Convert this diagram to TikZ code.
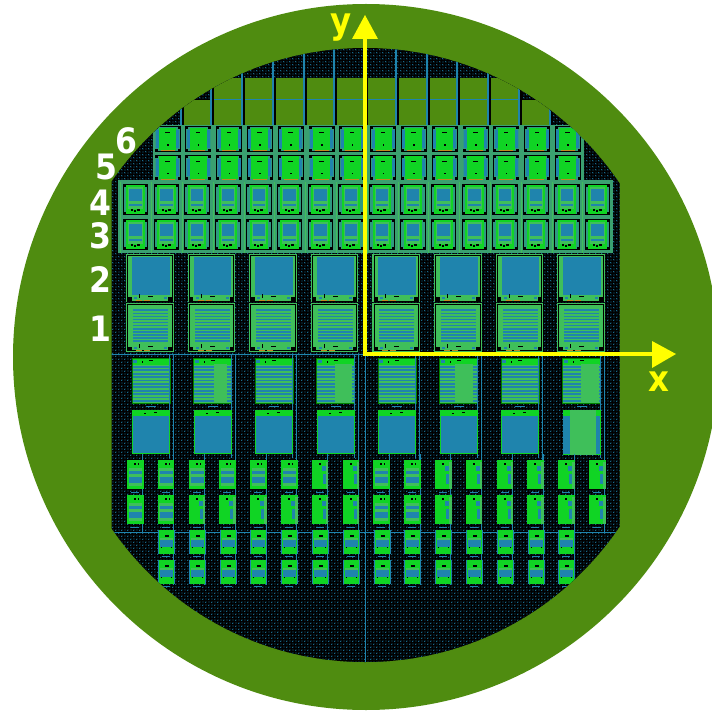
\documentclass[tikz,border=0pt]{standalone}
\usepackage{fontspec}
\newfontfamily\lab{DejaVu Sans Condensed}
\definecolor{wafer}{HTML}{4F8C10}
\definecolor{lgreen}{HTML}{3FBF5A}
\definecolor{bgreen}{HTML}{10D424}
\definecolor{chipblue}{HTML}{1F84AD}
\definecolor{chipteal}{HTML}{2F9A80}
\definecolor{framec}{HTML}{3AA070}
\definecolor{orangec}{HTML}{C08A20}
\definecolor{axisy}{HTML}{FFFF00}
\definecolor{dimdot}{HTML}{04171F}
\definecolor{dotblue}{HTML}{17698C}
\tikzset{
  wire/.style={draw=chipblue,line width=1pt},
  heavywire/.style={draw=chipblue,line width=2pt},
  axisline/.style={draw=axisy,line width=4pt},
  axishead/.style={fill=axisy},
  whitelabel/.style={text=white,font=\lab\bfseries\fontsize{35}{35}\selectfont,inner sep=0pt},
  yellowlabel/.style={text=axisy,font=\lab\bfseries\fontsize{36}{36}\selectfont,inner sep=0pt}
}
\newcommand\bx[5]{\fill[#1] (#2,#3) rectangle (#4,#5);}
\newcommand\CellA[2]{\begin{scope}[shift={(#1,#2)}]
 \bx{framec}{-1.8}{-1.5}{29}{27.5}
 \bx{black}{0}{0}{26}{25.5}
 \bx{chipteal}{3}{0.8}{23}{24.7}
 \bx{chipteal}{0.8}{3}{25.2}{22.5}
 \bx{chipblue}{1.5}{4}{5}{21.5}
 \bx{chipblue}{21}{4}{24.5}{21.5}
 \bx{bgreen}{4.5}{1.5}{21.5}{24}
 \bx{black}{10.5}{6}{15}{7}
 \bx{black}{12.5}{18}{14}{19.5}
 \bx{orangec}{6}{24}{20}{25}
\end{scope}}
\newcommand\CellB[2]{\begin{scope}[shift={(#1,#2)}]
 \bx{framec}{-2.5}{-2}{28.3}{33.5}
 \bx{lgreen}{-2.5}{-2}{-1.7}{33.5}
 \bx{black}{0}{0}{25.5}{31}
 \bx{chipteal}{3}{1}{22.5}{30}
 \bx{chipteal}{1}{3}{24.5}{28}
 \bx{bgreen}{3.5}{1}{22}{30}
 \bx{lgreen}{5.5}{3}{20}{25}
 \bx{chipblue}{6.5}{5}{19}{16.5}
 \bx{chipblue}{6.5}{19.5}{19}{21.5}
 \bx{black}{8}{25}{10}{27}
 \bx{black}{14}{25}{17}{27}
 \bx{black}{11}{26}{13}{28}
\end{scope}}
\newcommand\CellUpBlue[2]{\begin{scope}[shift={(#1,#2)}]
 \bx{lgreen}{0}{0}{47.5}{48.5}
 \draw[black,line width=.8pt] (1.5,1.5) rectangle (46,47.3);
 \bx{lgreen}{2.5}{2}{45}{46.5}
 \bx{chipblue}{6}{3}{43.5}{41}
 \bx{black}{1.5}{43}{5.5}{47.5}
 \bx{black}{42}{43}{46}{47.5}
 \bx{black}{13}{40}{14}{44.5}
 \bx{black}{22}{42}{27}{43.3}
 \bx{chipblue}{8}{43}{11}{45.5}
 \bx{chipblue}{38}{43}{41}{45.5}
 \bx{orangec}{10}{46.5}{16}{47.5}
 \bx{orangec}{18}{46.5}{24}{47.5}
\end{scope}}
\newcommand\CellUpStripe[2]{\begin{scope}[shift={(#1,#2)}]
 \bx{lgreen}{0}{0}{47.5}{49}
 \draw[black,line width=.8pt] (1.5,1.5) rectangle (46,47.8);
 \bx{lgreen}{2.5}{2}{45}{47}
 \foreach \s in {0,...,10}{\fill[chipblue] (7,{6.5+3.05*\s}) rectangle (42,{8.2+3.05*\s});}
 \bx{black}{1.5}{43.5}{5.5}{48}
 \bx{black}{42}{43.5}{46}{48}
 \bx{black}{13}{41}{14}{45}
 \bx{black}{22}{43}{27}{44.3}
 \bx{chipblue}{8}{43.5}{11}{46}
 \bx{chipblue}{38}{43.5}{41}{46}
 \bx{orangec}{10}{47}{16}{48}
 \bx{orangec}{18}{47}{24}{48}
\end{scope}}
% stripes: #3 = start of solid part, #4 = end of solid part (0 0 for none)
\newcommand\CellLowStripe[4]{\begin{scope}[shift={(#1,#2)}]
 \bx{lgreen}{0}{0}{38}{45}
 \bx{bgreen}{0}{0}{38}{6}
 \bx{black}{10}{2}{11}{4}
 \bx{black}{17}{1.5}{21}{2.5}
 \bx{chipblue}{1}{1}{5}{4}
 \foreach \s in {0,...,10}{\fill[chipblue] (0.5,{7.5+3.4*\s}) rectangle (37,{9.3+3.4*\s});}
 \ifnum#4>0 \bx{lgreen}{#3}{5.5}{#4}{44}\fi
 \draw[green!50!black,line width=.6pt] (0,0) rectangle (38,45);
\end{scope}}
\newcommand\CellLowBlue[2]{\begin{scope}[shift={(#1,#2)}]
 \bx{bgreen}{0}{0}{38}{44}
 \bx{chipblue}{1}{6}{37}{43}
 \bx{black}{12}{3}{14}{4}
 \bx{black}{22}{2}{25}{3}
\end{scope}}
\newcommand\CellLowLast[2]{\begin{scope}[shift={(#1,#2)}]
 \bx{bgreen}{0}{0}{38}{45}
 \bx{chipblue}{0.5}{6}{37.5}{44}
 \bx{lgreen}{7}{0}{33}{45}
\end{scope}}
\newcommand\SmallBlue[3]{\begin{scope}[shift={(#1,#2)}]
 \bx{bgreen}{0}{0}{16.5}{#3}
 \bx{lgreen}{1.5}{8}{15}{26}
 \bx{chipblue}{2}{11}{15}{14}
 \bx{chipblue}{2}{17}{15}{23}
 \bx{black}{7}{3}{9}{5}
 \bx{black}{11}{3}{12}{5}
 \bx{chipblue}{4}{#3+2.5}{12}{#3+3.7}
\end{scope}}
\newcommand\SmallSolid[3]{\begin{scope}[shift={(#1,#2)}]
 \bx{bgreen}{0}{0}{16.5}{#3}
 \bx{chipblue}{10}{6}{15}{11}
 \bx{chipblue}{11}{14}{16}{24}
 \bx{lgreen}{14}{2}{16.5}{#3}
 \bx{black}{7}{3}{9}{5}
 \bx{chipblue}{4}{#3+2.5}{12}{#3+3.7}
\end{scope}}
\newcommand\SmallC[3]{\begin{scope}[shift={(#1,#2)}]
 \bx{bgreen}{0}{0}{17}{#3}
 \bx{chipblue}{0}{0}{1}{#3}
 \bx{chipblue}{16}{0}{17}{#3}
 \bx{chipblue}{2}{10}{15}{17}
 \bx{lgreen}{2}{8}{15}{10}
 \bx{black}{7}{5}{11}{7}
 \bx{black}{3}{17}{4}{18}
 \bx{black}{13}{17}{14}{18}
 \bx{chipblue}{4}{#3+2}{12}{#3+3.2}
\end{scope}}
\begin{document}
\begin{tikzpicture}[x=1pt,y=-1pt]
\useasboundingbox (0,0) rectangle (712,711);
\fill[white] (0,0) rectangle (712,711);
\begin{scope}
\clip (0,0) rectangle (712,711);
\fill[wafer] (366,357) circle[radius=353];
\end{scope}
\begin{scope}
\clip (365,355) circle[radius=307];
\clip (111.5,0) rectangle (619.5,711);
\fill[black] (100,40) rectangle (630,670);
\foreach \i in {0,...,206}{
  \pgfmathsetmacro\yy{47+3*\i}
  \pgfmathsetmacro\ph{mod(\i,2)*3}
  \draw[color=dimdot,line width=1.5pt,dash pattern=on 1.5pt off 1.5pt,dash phase=\ph] (100,\yy) -- (630,\yy);
  \draw[color=dotblue,line width=1pt,dash pattern=on 1pt off 5pt,dash phase=\ph] (100,\yy) -- (630,\yy);
}
% green pads above the top rows
\fill[wafer] (211,78) rectangle (518,125);
\fill[wafer] (182,100) rectangle (211,125);
\fill[wafer] (518,100) rectangle (549,125);
\draw[wire] (211,100) -- (518,100);
\foreach \k in {0,...,12}{
  \pgfmathsetmacro\xx{180.5+30.75*\k}
  \fill[black] (\xx,78) rectangle ({\xx+3},126);
  \draw[heavywire] (\xx,40) -- (\xx,126);
}
% rows 6 and 5
\foreach \i in {0,...,13}{
  \pgfmathsetmacro\xx{154.5+30.8*\i}
  \CellA{\xx}{126.5}
  \CellA{\xx}{155}
}
% rows 4 and 3
\fill[framec] (118,180.5) rectangle (613,253);
\foreach \i in {0,...,15}{
  \pgfmathsetmacro\xx{122.8+30.8*\i}
  \CellB{\xx}{184.5}
  \CellB{\xx}{219.5}
}
% rows 2 and 1
\foreach \i in {0,...,7}{
  \pgfmathsetmacro\xx{126+61.6*\i}
  \CellUpBlue{\xx}{254}
  \CellUpStripe{\xx}{303}
}
% rows below the x axis
\draw[wire] (111,354) -- (620,354);
\draw[wire] (111,532) -- (620,532);
\foreach \i/\sa/\sb in {0/0/0,1/20/33,2/0/0,3/18/35,4/0/0,5/15/33,6/0/0,7/18/36}{
  \pgfmathsetmacro\xx{132+61.5*\i}
  \CellLowStripe{\xx}{358.5}{\sa}{\sb}
  \draw[wire,line width=.8pt] ({\xx+37.5},354) -- ({\xx+37.5},458);
  \draw[wire,line width=.8pt] ({\xx+41.5},354) -- ({\xx+41.5},460);
  \fill[chipblue] ({\xx+14},405.5) rectangle ({\xx+24},406.7);
  \ifnum\i<7 \CellLowBlue{\xx}{410}\else \CellLowLast{\xx}{409.5}\fi
}
\foreach \i in {0,...,15}{
  \pgfmathsetmacro\xx{142.8+30.8*\i}
  \pgfmathsetmacro\yend{(\i==0 || \i==15) ? 532 : 585}
  \draw[wire,line width=.8pt] (\xx,454) -- (\xx,\yend);
}
\foreach \i/\t in {0/0,1/0,2/0,3/0,4/0,5/0,6/1,7/1,8/0,9/0,10/1,11/1,12/1,13/1,14/1,15/1}{
  \pgfmathsetmacro\xx{127+30.8*\i}
  \ifnum\t=0 \SmallBlue{\xx}{460}{29}\else \SmallSolid{\xx}{460}{29}\fi
}
\foreach \i/\t in {0/0,1/0,2/1,3/1,4/1,5/1,6/1,7/1,8/0,9/0,10/1,11/1,12/1,13/1,14/1,15/1}{
  \pgfmathsetmacro\xx{127+30.8*\i}
  \ifnum\t=0 \SmallBlue{\xx}{495}{29}\else \SmallSolid{\xx}{495}{29}\fi
}
\foreach \i in {0,...,13}{
  \pgfmathsetmacro\xx{158+30.8*\i}
  \SmallC{\xx}{530}{24}
  \SmallC{\xx}{560}{24}
}
\end{scope}
\draw[wire] (365,354) -- (365,662);
% axes
\coordinate (origin) at (365,354);
\coordinate (xtip) at (676,354);
\coordinate (ytip) at (365,15);
\coordinate (xbase) at (654,354);
\coordinate (ybase) at (365,37);
\draw[axisline] (363,354) -- (xbase);
\draw[axisline] (origin) ++(0,2) -- (ybase);
\fill[axishead] (xtip) -- (652,341) -- (652,368) -- cycle;
\fill[axishead] (ytip) -- (352,39) -- (378,39) -- cycle;
\node[yellowlabel] (xlabel) at (659,382) {x};
\node[yellowlabel] (ylabel) at (341,28) {y};
\node[whitelabel] (l6) at (126,141) {6};
\node[whitelabel] (l5) at (106,167) {5};
\node[whitelabel] (l4) at (100,203) {4};
\node[whitelabel] (l3) at (100,236) {3};
\node[whitelabel] (l2) at (100,280) {2};
\node[whitelabel] (l1) at (100,329) {1};
\end{tikzpicture}
\end{document}
